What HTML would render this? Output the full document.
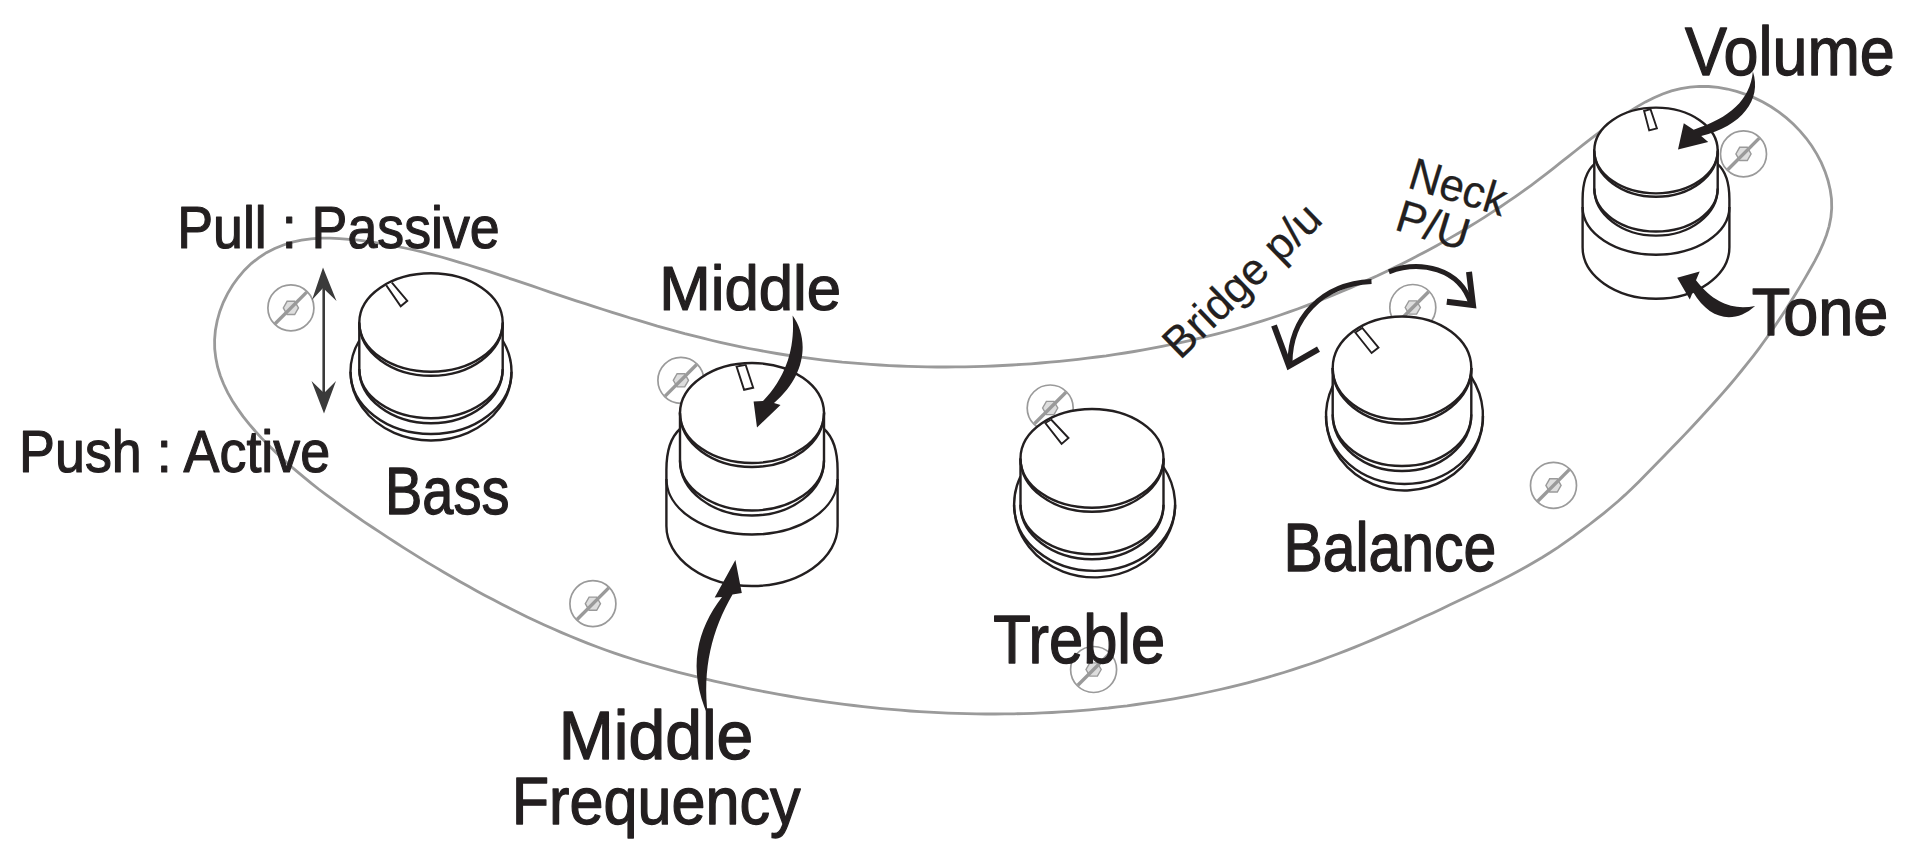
<!DOCTYPE html>
<html><head><meta charset="utf-8"><style>
html,body{margin:0;padding:0;background:#fff;width:1925px;height:861px;overflow:hidden}
svg{display:block}
text{font-family:"Liberation Sans",sans-serif}
</style></head><body>
<svg width="1925" height="861" viewBox="0 0 1925 861">
<rect width="1925" height="861" fill="#fff"/>
<path d="M 214.6,339.7 L 215.4,330.2 L 217.2,320.7 L 219.8,311.4 L 223.3,302.3 L 227.6,293.6 L 232.6,285.3 L 238.2,277.5 L 244.4,270.2 L 251.2,263.6 L 258.6,257.8 L 266.4,252.7 L 274.7,248.5 L 283.4,245.0 L 292.3,242.2 L 301.5,240.1 L 310.9,238.8 L 320.4,238.1 L 329.9,238.1 L 339.4,238.6 L 348.9,239.3 L 358.3,240.2 L 367.7,241.4 L 377.0,242.8 L 386.3,244.3 L 395.5,246.1 L 404.7,248.0 L 413.9,250.0 L 423.1,252.2 L 432.2,254.6 L 441.3,257.0 L 450.3,259.6 L 459.4,262.3 L 468.4,265.0 L 477.4,267.8 L 486.4,270.7 L 495.4,273.7 L 504.4,276.7 L 513.3,279.7 L 522.3,282.7 L 531.3,285.7 L 540.3,288.8 L 549.2,291.8 L 558.2,294.8 L 567.2,297.8 L 576.2,300.8 L 585.2,303.7 L 594.2,306.7 L 603.2,309.5 L 612.2,312.4 L 621.2,315.2 L 630.3,318.0 L 639.3,320.7 L 648.4,323.4 L 657.4,326.1 L 666.5,328.6 L 675.6,331.1 L 684.7,333.6 L 693.9,335.9 L 703.0,338.2 L 712.2,340.5 L 721.3,342.6 L 730.5,344.6 L 739.7,346.6 L 749.0,348.5 L 758.2,350.2 L 767.5,351.9 L 776.8,353.5 L 786.1,355.0 L 795.4,356.4 L 804.8,357.7 L 814.1,358.9 L 823.5,360.1 L 832.9,361.1 L 842.2,362.1 L 851.6,362.9 L 861.0,363.7 L 870.5,364.4 L 879.9,365.0 L 889.3,365.6 L 898.8,366.0 L 908.2,366.4 L 917.6,366.6 L 927.1,366.8 L 936.6,367.0 L 946.0,367.0 L 955.5,366.9 L 964.9,366.8 L 974.4,366.6 L 983.8,366.3 L 993.3,366.0 L 1002.7,365.5 L 1012.2,365.0 L 1021.6,364.4 L 1031.0,363.8 L 1040.5,363.0 L 1049.9,362.2 L 1059.3,361.3 L 1068.7,360.4 L 1078.1,359.3 L 1087.5,358.2 L 1096.8,357.0 L 1106.2,355.8 L 1115.5,354.4 L 1124.8,353.0 L 1134.1,351.5 L 1143.4,349.9 L 1152.7,348.2 L 1162.0,346.4 L 1171.2,344.5 L 1180.4,342.6 L 1189.6,340.6 L 1198.8,338.4 L 1208.0,336.2 L 1217.1,333.9 L 1226.2,331.5 L 1235.3,329.0 L 1244.4,326.4 L 1253.4,323.7 L 1262.5,320.9 L 1271.4,318.0 L 1280.4,315.0 L 1289.3,311.9 L 1298.2,308.7 L 1307.1,305.4 L 1315.9,302.0 L 1324.8,298.5 L 1333.5,295.0 L 1342.3,291.3 L 1350.9,287.6 L 1359.6,283.8 L 1368.2,279.9 L 1376.8,276.0 L 1385.3,271.9 L 1393.8,267.8 L 1402.2,263.7 L 1410.6,259.4 L 1419.0,255.1 L 1427.3,250.7 L 1435.6,246.2 L 1443.8,241.6 L 1452.0,236.9 L 1460.1,232.2 L 1468.3,227.3 L 1476.3,222.4 L 1484.3,217.4 L 1492.3,212.2 L 1500.2,207.0 L 1508.0,201.7 L 1515.8,196.3 L 1523.5,190.9 L 1531.2,185.3 L 1538.7,179.7 L 1546.3,173.9 L 1553.7,168.1 L 1561.1,162.2 L 1568.5,156.4 L 1575.9,150.5 L 1583.3,144.7 L 1590.7,138.9 L 1598.2,133.2 L 1605.8,127.5 L 1613.5,122.1 L 1621.3,116.7 L 1629.2,111.6 L 1637.3,106.6 L 1645.5,101.9 L 1654.0,97.7 L 1662.6,94.0 L 1671.5,90.9 L 1680.7,88.6 L 1689.9,87.1 L 1699.3,86.4 L 1708.7,86.5 L 1718.1,87.4 L 1727.4,89.0 L 1736.6,91.3 L 1745.6,94.3 L 1754.4,97.9 L 1762.9,102.1 L 1771.1,106.8 L 1779.0,112.1 L 1786.4,117.9 L 1793.5,124.3 L 1800.1,131.1 L 1806.2,138.3 L 1811.8,146.0 L 1816.8,154.1 L 1821.3,162.6 L 1825.0,171.4 L 1828.0,180.5 L 1830.2,189.7 L 1831.5,198.9 L 1831.7,208.2 L 1830.9,217.3 L 1829.1,226.3 L 1826.4,235.2 L 1823.0,243.9 L 1819.1,252.6 L 1814.7,261.1 L 1810.0,269.5 L 1805.2,277.9 L 1800.3,286.1 L 1795.4,294.3 L 1790.4,302.3 L 1785.4,310.3 L 1780.2,318.1 L 1775.0,325.9 L 1769.7,333.6 L 1764.2,341.3 L 1758.7,348.8 L 1753.0,356.3 L 1747.2,363.7 L 1741.3,371.0 L 1735.3,378.3 L 1729.3,385.5 L 1723.1,392.7 L 1716.8,399.8 L 1710.5,406.8 L 1704.1,413.8 L 1697.7,420.8 L 1691.2,427.7 L 1684.7,434.6 L 1678.1,441.4 L 1671.5,448.2 L 1665.0,455.0 L 1658.4,461.8 L 1651.8,468.5 L 1645.2,475.2 L 1638.6,481.9 L 1631.9,488.5 L 1625.1,494.9 L 1618.1,501.2 L 1611.0,507.3 L 1603.7,513.3 L 1596.3,519.2 L 1588.8,525.0 L 1581.2,530.7 L 1573.6,536.4 L 1565.8,541.9 L 1558.0,547.3 L 1550.1,552.5 L 1542.1,557.5 L 1534.0,562.3 L 1525.8,567.0 L 1517.6,571.5 L 1509.2,575.9 L 1500.9,580.2 L 1492.5,584.5 L 1484.0,588.6 L 1475.5,592.7 L 1467.0,596.8 L 1458.5,600.8 L 1450.0,604.8 L 1441.4,608.9 L 1432.9,612.9 L 1424.3,616.8 L 1415.7,620.8 L 1407.1,624.7 L 1398.4,628.6 L 1389.8,632.4 L 1381.1,636.1 L 1372.4,639.9 L 1363.7,643.5 L 1354.9,647.1 L 1346.1,650.6 L 1337.3,654.0 L 1328.5,657.3 L 1319.6,660.6 L 1310.7,663.7 L 1301.8,666.7 L 1292.8,669.7 L 1283.8,672.5 L 1274.8,675.2 L 1265.7,677.9 L 1256.6,680.4 L 1247.5,682.8 L 1238.4,685.1 L 1229.2,687.4 L 1220.0,689.5 L 1210.8,691.5 L 1201.5,693.5 L 1192.3,695.3 L 1183.0,697.1 L 1173.7,698.8 L 1164.4,700.4 L 1155.1,701.8 L 1145.8,703.2 L 1136.4,704.5 L 1127.1,705.8 L 1117.7,706.9 L 1108.4,708.0 L 1099.0,708.9 L 1089.6,709.8 L 1080.2,710.6 L 1070.8,711.3 L 1061.3,711.9 L 1051.9,712.5 L 1042.5,712.9 L 1033.1,713.3 L 1023.6,713.6 L 1014.2,713.8 L 1004.7,713.9 L 995.3,714.0 L 985.8,714.0 L 976.4,713.9 L 966.9,713.7 L 957.5,713.4 L 948.0,713.1 L 938.6,712.7 L 929.1,712.2 L 919.7,711.6 L 910.3,711.0 L 900.8,710.2 L 891.4,709.4 L 882.0,708.6 L 872.6,707.6 L 863.2,706.6 L 853.8,705.5 L 844.4,704.4 L 835.0,703.2 L 825.6,701.9 L 816.3,700.5 L 806.9,699.1 L 797.6,697.6 L 788.3,696.0 L 778.9,694.4 L 769.6,692.7 L 760.4,690.9 L 751.1,689.1 L 741.8,687.2 L 732.6,685.2 L 723.4,683.2 L 714.2,681.1 L 705.0,678.9 L 695.9,676.7 L 686.7,674.4 L 677.6,672.1 L 668.5,669.6 L 659.4,667.1 L 650.4,664.5 L 641.4,661.8 L 632.4,659.0 L 623.4,656.1 L 614.5,653.1 L 605.6,650.0 L 596.8,646.8 L 587.9,643.4 L 579.2,639.9 L 570.4,636.3 L 561.7,632.6 L 553.0,628.8 L 544.4,624.9 L 535.8,621.0 L 527.2,616.9 L 518.7,612.7 L 510.2,608.5 L 501.8,604.2 L 493.4,599.8 L 485.0,595.4 L 476.7,590.9 L 468.4,586.3 L 460.2,581.7 L 452.0,577.0 L 443.8,572.2 L 435.7,567.4 L 427.6,562.6 L 419.5,557.6 L 411.5,552.6 L 403.5,547.6 L 395.6,542.5 L 387.7,537.4 L 379.8,532.2 L 372.0,527.0 L 364.2,521.8 L 356.5,516.5 L 348.8,511.1 L 341.1,505.7 L 333.6,500.2 L 326.0,494.6 L 318.5,489.0 L 311.1,483.2 L 303.8,477.2 L 296.6,471.2 L 289.4,465.0 L 282.4,458.6 L 275.4,452.1 L 268.6,445.3 L 261.8,438.4 L 255.3,431.2 L 249.0,423.9 L 243.0,416.4 L 237.5,408.6 L 232.3,400.7 L 227.7,392.6 L 223.7,384.3 L 220.3,375.7 L 217.6,367.0 L 215.8,358.1 L 214.7,349.0 Z" fill="none" stroke="#9a9a9a" stroke-width="2.8"/>
<g><circle cx="290.9" cy="307.9" r="23" fill="none" stroke="#9a9a9a" stroke-width="1.7"/><polygon points="298.5,307.9 294.7,314.5 287.1,314.5 283.3,307.9 287.1,301.3 294.7,301.3" fill="#dedede" stroke="#9a9a9a" stroke-width="1.4"/><line x1="275.1" y1="323.7" x2="306.7" y2="292.1" stroke="#9a9a9a" stroke-width="3.4"/></g>
<g><circle cx="680.9" cy="380.3" r="23" fill="none" stroke="#9a9a9a" stroke-width="1.7"/><polygon points="688.5,380.3 684.7,386.9 677.1,386.9 673.3,380.3 677.1,373.7 684.7,373.7" fill="#dedede" stroke="#9a9a9a" stroke-width="1.4"/><line x1="665.1" y1="396.1" x2="696.7" y2="364.5" stroke="#9a9a9a" stroke-width="3.4"/></g>
<g><circle cx="1050.2" cy="408" r="23" fill="none" stroke="#9a9a9a" stroke-width="1.7"/><polygon points="1057.8,408 1054,414.6 1046.4,414.6 1042.6,408 1046.4,401.4 1054,401.4" fill="#dedede" stroke="#9a9a9a" stroke-width="1.4"/><line x1="1034.4" y1="423.8" x2="1066" y2="392.2" stroke="#9a9a9a" stroke-width="3.4"/></g>
<g><circle cx="1412.8" cy="307.5" r="23" fill="none" stroke="#9a9a9a" stroke-width="1.7"/><polygon points="1420.4,307.5 1416.6,314.1 1409,314.1 1405.2,307.5 1409,300.9 1416.6,300.9" fill="#dedede" stroke="#9a9a9a" stroke-width="1.4"/><line x1="1397" y1="323.3" x2="1428.6" y2="291.7" stroke="#9a9a9a" stroke-width="3.4"/></g>
<g><circle cx="1743.5" cy="153.9" r="23" fill="none" stroke="#9a9a9a" stroke-width="1.7"/><polygon points="1751.1,153.9 1747.3,160.5 1739.7,160.5 1735.9,153.9 1739.7,147.3 1747.3,147.3" fill="#dedede" stroke="#9a9a9a" stroke-width="1.4"/><line x1="1727.7" y1="169.7" x2="1759.3" y2="138.1" stroke="#9a9a9a" stroke-width="3.4"/></g>
<g><circle cx="1553.5" cy="485.4" r="23" fill="none" stroke="#9a9a9a" stroke-width="1.7"/><polygon points="1561.1,485.4 1557.3,492 1549.7,492 1545.9,485.4 1549.7,478.8 1557.3,478.8" fill="#dedede" stroke="#9a9a9a" stroke-width="1.4"/><line x1="1537.7" y1="501.2" x2="1569.3" y2="469.6" stroke="#9a9a9a" stroke-width="3.4"/></g>
<g><circle cx="1093.6" cy="669.5" r="23" fill="none" stroke="#9a9a9a" stroke-width="1.7"/><polygon points="1101.2,669.5 1097.4,676.1 1089.8,676.1 1086,669.5 1089.8,662.9 1097.4,662.9" fill="#dedede" stroke="#9a9a9a" stroke-width="1.4"/><line x1="1077.8" y1="685.3" x2="1109.4" y2="653.7" stroke="#9a9a9a" stroke-width="3.4"/></g>
<g><circle cx="592.9" cy="603.7" r="23" fill="none" stroke="#9a9a9a" stroke-width="1.7"/><polygon points="600.5,603.7 596.7,610.3 589.1,610.3 585.3,603.7 589.1,597.1 596.7,597.1" fill="#dedede" stroke="#9a9a9a" stroke-width="1.4"/><line x1="577.1" y1="619.5" x2="608.7" y2="587.9" stroke="#9a9a9a" stroke-width="3.4"/></g>
<path d="M 359.3,340.5 A 80.5,68.7 0 1 0 502.7,340.5 Z" fill="#fff" stroke="none"/>
<path d="M 359.3,340.5 A 80.5,68.7 0 1 0 502.7,340.5" fill="none" stroke="#231f20" stroke-width="2.4"/>
<path d="M 350.5,371.8 A 80.5,62.2 0 0 0 511.5,371.8" fill="none" stroke="#231f20" stroke-width="2.4"/>
<path d="M 359.3,322.5 L 359.3,368.9 A 71.7,49.3 0 0 0 502.7,368.9 L 502.7,322.5 A 71.7,49.3 0 0 0 359.3,322.5 Z" fill="#fff" stroke="none"/>
<path d="M 359.3,322.5 L 359.3,368.9 A 71.7,49.3 0 0 0 502.7,368.9 L 502.7,322.5" fill="none" stroke="#231f20" stroke-width="2.4"/>
<path d="M 359.3,368.9 A 71.7,54.3 0 0 0 502.7,368.9" fill="none" stroke="#231f20" stroke-width="2.4"/>
<ellipse cx="431" cy="322.5" rx="71.7" ry="49.3" fill="#fff" stroke="#231f20" stroke-width="2.4"/>
<path d="M 359.3,322.5 A 71.7,53.3 0 0 0 502.7,322.5" fill="none" stroke="#231f20" stroke-width="2.4"/>
<clipPath id="k1"><ellipse cx="431" cy="322.5" rx="70.7" ry="48.3"/></clipPath>
<polygon clip-path="url(#k1)" points="384.1,282.1 389.6,279.9 407.3,300.8 400.7,306.3" fill="#fff" stroke="#231f20" stroke-width="1.9"/>
<path d="M 1020.5,476.4 A 80.5,72.6 0 1 0 1163.5,467.2 Z" fill="#fff" stroke="none"/>
<path d="M 1020.5,476.4 A 80.5,72.6 0 1 0 1163.5,467.2" fill="none" stroke="#231f20" stroke-width="2.4"/>
<path d="M 1014.1,504.8 A 80.5,66.1 0 0 0 1175.1,504.8" fill="none" stroke="#231f20" stroke-width="2.4"/>
<path d="M 1020.5,458.4 L 1020.5,504.8 A 71.5,49.4 0 0 0 1163.5,504.8 L 1163.5,458.4 A 71.5,49.4 0 0 0 1020.5,458.4 Z" fill="#fff" stroke="none"/>
<path d="M 1020.5,458.4 L 1020.5,504.8 A 71.5,49.4 0 0 0 1163.5,504.8 L 1163.5,458.4" fill="none" stroke="#231f20" stroke-width="2.4"/>
<path d="M 1020.5,504.8 A 71.5,54.4 0 0 0 1163.5,504.8" fill="none" stroke="#231f20" stroke-width="2.4"/>
<ellipse cx="1092" cy="458.4" rx="71.5" ry="49.4" fill="#fff" stroke="#231f20" stroke-width="2.4"/>
<path d="M 1020.5,458.4 A 71.5,53.4 0 0 0 1163.5,458.4" fill="none" stroke="#231f20" stroke-width="2.4"/>
<clipPath id="k2"><ellipse cx="1092" cy="458.4" rx="70.5" ry="48.4"/></clipPath>
<polygon clip-path="url(#k2)" points="1045.3,423 1051.1,419.5 1068.5,438 1061.6,443.9" fill="#fff" stroke="#231f20" stroke-width="1.9"/>
<path d="M 1332.7,386 A 78.5,74.4 0 1 0 1471.3,377 Z" fill="#fff" stroke="none"/>
<path d="M 1332.7,386 A 78.5,74.4 0 1 0 1471.3,377" fill="none" stroke="#231f20" stroke-width="2.4"/>
<path d="M 1326,416.1 A 78.5,67.9 0 0 0 1483,416.1" fill="none" stroke="#231f20" stroke-width="2.4"/>
<path d="M 1332.7,368 L 1332.7,414.5 A 69.3,51.5 0 0 0 1471.3,414.5 L 1471.3,368 A 69.3,51.5 0 0 0 1332.7,368 Z" fill="#fff" stroke="none"/>
<path d="M 1332.7,368 L 1332.7,414.5 A 69.3,51.5 0 0 0 1471.3,414.5 L 1471.3,368" fill="none" stroke="#231f20" stroke-width="2.4"/>
<path d="M 1332.7,414.5 A 69.3,56.5 0 0 0 1471.3,414.5" fill="none" stroke="#231f20" stroke-width="2.4"/>
<ellipse cx="1402" cy="368" rx="69.3" ry="51.5" fill="#fff" stroke="#231f20" stroke-width="2.4"/>
<path d="M 1332.7,368 A 69.3,55.5 0 0 0 1471.3,368" fill="none" stroke="#231f20" stroke-width="2.4"/>
<clipPath id="k3"><ellipse cx="1402" cy="368" rx="68.3" ry="50.5"/></clipPath>
<polygon clip-path="url(#k3)" points="1355.3,332.5 1362.3,327.9 1378.5,347.6 1371.6,353" fill="#fff" stroke="#231f20" stroke-width="1.9"/>
<path d="M 680,429 Q 666.4,441 666.4,470 L 666.4,526 A 85.6,60 0 0 0 837.6,526 L 837.6,470 Q 837.6,441 824,429 Z" fill="#fff" stroke="#231f20" stroke-width="2.4"/>
<path d="M 666.4,479 A 85.6,55.6 0 0 0 837.6,479" fill="none" stroke="#231f20" stroke-width="2.4"/>
<path d="M 680,413 L 680,460.5 A 72,50 0 0 0 824,460.5 L 824,413 Z" fill="#fff" stroke="#231f20" stroke-width="2.4"/>
<path d="M 680,460.5 A 72,55 0 0 0 824,460.5" fill="none" stroke="#231f20" stroke-width="2.4"/>
<ellipse cx="752" cy="413" rx="72" ry="50" fill="#fff" stroke="#231f20" stroke-width="2.4"/>
<path d="M 680,413 A 72,54 0 0 0 824,413" fill="none" stroke="#231f20" stroke-width="2.4"/>
<clipPath id="k4"><ellipse cx="752" cy="413" rx="71" ry="49"/></clipPath>
<polygon clip-path="url(#k4)" points="736.6,366.6 745.6,364.7 753.2,387.7 744.1,389.8" fill="#fff" stroke="#231f20" stroke-width="1.9"/>
<path d="M 1594.3,164.2 Q 1582.6,174.5 1582.6,199.3 L 1582.6,247.3 A 73.4,51.4 0 0 0 1729.4,247.3 L 1729.4,199.3 Q 1729.4,174.5 1717.7,164.2 Z" fill="#fff" stroke="#231f20" stroke-width="2.4"/>
<path d="M 1582.6,207.1 A 73.4,47.6 0 0 0 1729.4,207.1" fill="none" stroke="#231f20" stroke-width="2.4"/>
<path d="M 1594.3,150.5 L 1594.3,188.6 A 61.7,42.9 0 0 0 1717.7,188.6 L 1717.7,150.5 Z" fill="#fff" stroke="#231f20" stroke-width="2.4"/>
<path d="M 1594.3,188.6 A 61.7,47.1 0 0 0 1717.7,188.6" fill="none" stroke="#231f20" stroke-width="2.4"/>
<ellipse cx="1656" cy="150.5" rx="61.7" ry="42.9" fill="#fff" stroke="#231f20" stroke-width="2.4"/>
<path d="M 1594.3,150.5 A 61.7,46.3 0 0 0 1717.7,150.5" fill="none" stroke="#231f20" stroke-width="2.4"/>
<clipPath id="k5"><ellipse cx="1656" cy="150.5" rx="60.7" ry="41.9"/></clipPath>
<polygon clip-path="url(#k5)" points="1644.1,111 1650.5,109.2 1656.9,128.3 1649.2,130.4" fill="#fff" stroke="#231f20" stroke-width="1.9"/>
<path d="M 792.6,315.4 C 809,338 807,375 774,403 L 780.5,405 L 757,427.6 L 753.6,401.6 L 763,401 C 788,375 795,345 792.6,315.4 Z" fill="#231f20"/>
<path d="M 708,716 C 687,668 697,630 722,597 L 714.7,597.4 L 735.4,559.9 L 741.8,593.1 L 732.5,594.4 C 712,630 702,668 708,716 Z" fill="#231f20"/>
<path d="M 1752.9,71.6 C 1762,100 1742,126 1701.2,136.1 L 1708.2,141.9 L 1678,149.4 L 1683.8,123.3 L 1693.7,129.7 C 1730,118 1750,100 1752.9,71.6 Z" fill="#231f20"/>
<path d="M 1755.1,305.9 C 1735,324 1710,321 1692.9,291.8 L 1689.8,299.6 L 1677.2,277.7 L 1699.7,271.4 L 1696,280.3 C 1715,305 1735,310 1755.1,305.9 Z" fill="#231f20"/>
<path d="M 1371.5,281.6 C 1320,284 1290,320 1290,363" fill="none" stroke="#231f20" stroke-width="5"/>
<path d="M 1274,325.5 L 1289,366 L 1318.5,349.2" fill="none" stroke="#231f20" stroke-width="6"/>
<path d="M 1388.9,271.8 C 1420,260 1460,268 1471,304" fill="none" stroke="#231f20" stroke-width="5"/>
<path d="M 1469,271.8 L 1473,305 L 1446.8,301.8" fill="none" stroke="#231f20" stroke-width="6"/>
<line x1="323.7" y1="285" x2="323.7" y2="396" stroke="#3a3a3a" stroke-width="2.6"/>
<path d="M 323,267.5 L 336.5,301 L 323,288 L 312,300 Z" fill="#3a3a3a"/>
<path d="M 324,413.5 L 336,381 L 324,393 L 311.5,381 Z" fill="#3a3a3a"/>
<g font-family="Liberation Sans, sans-serif" fill="#231f20"><text transform="matrix(0.53752 0 0 0.59571 177.20 247.60)" font-size="100" stroke="#231f20" stroke-width="2.0" stroke-linejoin="round">Pull : Passive</text>
<text transform="matrix(0.53816 0 0 0.59571 19.09 472.30)" font-size="100" stroke="#231f20" stroke-width="2.0" stroke-linejoin="round">Push : Active</text>
<text transform="matrix(0.55972 0 0 0.67000 385.02 513.90)" font-size="100" stroke="#231f20" stroke-width="2.0" stroke-linejoin="round">Bass</text>
<text transform="matrix(0.61767 0 0 0.62286 659.26 309.60)" font-size="100" stroke="#231f20" stroke-width="2.0" stroke-linejoin="round">Middle</text>
<text transform="matrix(0.66078 0 0 0.68143 558.71 759.00)" font-size="100" stroke="#231f20" stroke-width="2.0" stroke-linejoin="round">Middle</text>
<text transform="matrix(0.61140 0 0 0.67143 511.71 824.30)" font-size="100" stroke="#231f20" stroke-width="2.0" stroke-linejoin="round">Frequency</text>
<text transform="matrix(0.61460 0 0 0.68429 993.27 662.90)" font-size="100" stroke="#231f20" stroke-width="2.0" stroke-linejoin="round">Treble</text>
<text transform="matrix(0.58943 0 0 0.68571 1283.38 571.10)" font-size="100" stroke="#231f20" stroke-width="2.0" stroke-linejoin="round">Balance</text>
<text transform="matrix(0.62909 0 0 0.68000 1685.00 75.10)" font-size="100" stroke="#231f20" stroke-width="2.0" stroke-linejoin="round">Volume</text>
<text transform="matrix(0.63033 0 0 0.67143 1751.64 334.90)" font-size="100" stroke="#231f20" stroke-width="2.0" stroke-linejoin="round">Tone</text>
<text transform="translate(1182.60 358.30) rotate(-44.00) scale(0.43982 0.44000) translate(-8.00 0)" font-size="100" stroke="#231f20" stroke-width="0.6" stroke-linejoin="round">Bridge p/u</text>
<text transform="translate(1409.70 188.30) rotate(17.00) scale(0.43545 0.45429) translate(-8.00 0)" font-size="100" stroke="#231f20" stroke-width="0.6" stroke-linejoin="round">Neck</text>
<text transform="translate(1396.60 230.40) rotate(17.00) scale(0.44408 0.45429) translate(-8.00 0)" font-size="100" stroke="#231f20" stroke-width="0.6" stroke-linejoin="round">P/U</text></g>
</svg></body></html>
